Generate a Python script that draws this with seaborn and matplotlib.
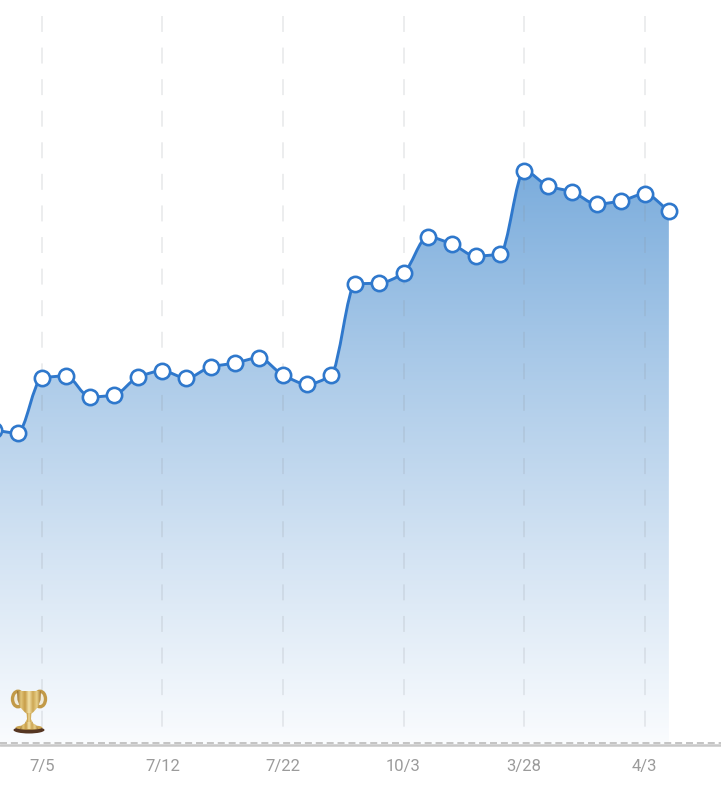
import numpy as np
import pandas as pd
import matplotlib.pyplot as plt
import seaborn as sns
from matplotlib.colors import LinearSegmentedColormap
from matplotlib.patches import Ellipse, PathPatch, Polygon
from matplotlib.path import Path

values = [314, 311, 366, 368, 347, 349, 367, 373, 366, 377, 381, 386, 369, 360, 369,
          460, 461, 471, 507, 500, 488, 490, 573, 558, 552, 540, 543, 550, 533]
tick_positions = [2, 7, 12, 17, 22, 27]
tick_labels = ["7/5", "7/12", "7/22", "10/3", "3/28", "4/3"]

BLUE = "#2f78cc"
W, H = 721, 800
BASE = 744

sns.set_theme(style="white")
plt.rcParams["font.family"] = ["Roboto", "DejaVu Sans"]

df = pd.DataFrame({"day": np.arange(len(values)), "value": values})


def monotone_path(xs, ys):
    # bezier segments through the points, flat at local peaks and dips
    slopes = np.diff(ys) / np.diff(xs)
    tang = np.zeros(len(ys))
    for i in range(1, len(ys) - 1):
        if slopes[i - 1] * slopes[i] > 0:
            tang[i] = 2 * slopes[i - 1] * slopes[i] / (slopes[i - 1] + slopes[i])
    tang[0] = slopes[0]
    tang[-1] = slopes[-1]
    verts = [(xs[0], ys[0])]
    codes = [Path.MOVETO]
    for i in range(len(ys) - 1):
        d = (xs[i + 1] - xs[i]) / 3
        verts += [(xs[i] + d, ys[i] + tang[i] * d),
                  (xs[i + 1] - d, ys[i + 1] - tang[i + 1] * d),
                  (xs[i + 1], ys[i + 1])]
        codes += [Path.CURVE4] * 3
    return verts, codes


fig = plt.figure(figsize=(W / 100, H / 100), dpi=100)
ax = fig.add_axes([0, (H - BASE) / H, 1, BASE / H])

x_left = 6.5 / 24.12
x_right = (W + 6.5) / 24.12

curve_verts, curve_codes = monotone_path(df["day"].to_numpy(float), df["value"].to_numpy(float))

# gradient under the line
cmap = LinearSegmentedColormap.from_list(
    "area", ["#fafcfe", "#d3e3f3", "#a9c9e8", "#7aacdc"])
grad = np.linspace(1, 0, 256).reshape(-1, 1)
im = ax.imshow(grad, extent=[x_left, x_right, 0, 580], aspect="auto",
               cmap=cmap, zorder=1)
area = Path(curve_verts + [(df["day"].iloc[-1], 0), (df["day"].iloc[0], 0), curve_verts[0]],
            curve_codes + [Path.LINETO, Path.LINETO, Path.CLOSEPOLY])
im.set_clip_path(area, transform=ax.transData)

# dashed vertical guides
for t in tick_positions:
    ax.plot([t, t], [728, 16], color="#8a8f96", alpha=0.16, lw=1.4,
            dashes=(8.2, 8.04), zorder=2)

ax.add_patch(PathPatch(Path(curve_verts, curve_codes), facecolor="none", edgecolor=BLUE,
                       lw=2.1, zorder=3))
sns.lineplot(data=df, x="day", y="value", ax=ax, lw=0, marker="o", markersize=11,
             markerfacecolor="white", markeredgecolor=BLUE, markeredgewidth=1.9,
             zorder=4, errorbar=None)

ax.set_xlim(x_left, x_right)
ax.set_ylim(0, BASE)
ax.set_xticks(tick_positions)
ax.set_xticklabels(tick_labels, fontsize=12, color="#9b9b9b")
ax.tick_params(axis="x", length=0, pad=10.5)
ax.set_yticks([])
ax.set_xlabel("")
ax.set_ylabel("")
sns.despine(ax=ax, left=True, right=True, top=True, bottom=True)

# base line, solid with a dashed edge on top
ax.axhline(-1.2, color="#c8c8c8", lw=1.8, clip_on=False, zorder=3)
ax.plot([x_left, x_right], [1.2, 1.2], color="#c4c4c4", lw=1.4, dashes=(3.6, 2.0),
        clip_on=False, zorder=3)

# trophy, on its own small axes in screen pixels
tr = fig.add_axes([8 / W, 1 - 738 / H, 42 / W, 50 / H])
tr.set_xlim(8, 50)
tr.set_ylim(738, 688)
tr.axis("off")
tr.patch.set_alpha(0)

gold = LinearSegmentedColormap.from_list(
    "gold", ["#9c7430", "#e2c578", "#c79d48", "#f3e2a8", "#cda654", "#e8cf88", "#a67c34"])
# handles
for cx in (18, 40):
    tr.add_patch(Ellipse((cx, 699), 11, 15.5, facecolor="#f1ecdc", edgecolor="#c29a48", lw=2.4))


def gold_shape(points):
    xs = [p[0] for p in points]
    ys = [p[1] for p in points]
    img = tr.imshow(np.linspace(0, 1, 128).reshape(1, -1),
                    extent=[min(xs), max(xs), max(ys), min(ys)],
                    cmap=gold, aspect="auto", zorder=2)
    img.set_clip_path(Polygon(points, closed=True, transform=tr.transData))


gold_shape([(17, 691), (41, 691), (40.5, 700), (38, 707), (33.5, 712), (31, 714), (27, 714),
            (24.5, 712), (20, 707), (17.5, 700)])
gold_shape([(26.5, 713), (31.5, 713), (31, 719), (33, 723), (25, 723), (27, 719)])
gold_shape([(27, 722), (31, 722), (36, 725), (38, 729), (20, 729), (22, 725)])
tr.add_patch(Ellipse((29, 730), 31, 7, facecolor="#553622", lw=0, zorder=1))
tr.add_patch(Ellipse((29, 727.5), 27, 4.5, facecolor="#c9a350", lw=0, zorder=1))
tr.set_xlim(8, 50)
tr.set_ylim(738, 688)

fig.savefig("out.png", dpi=100)
